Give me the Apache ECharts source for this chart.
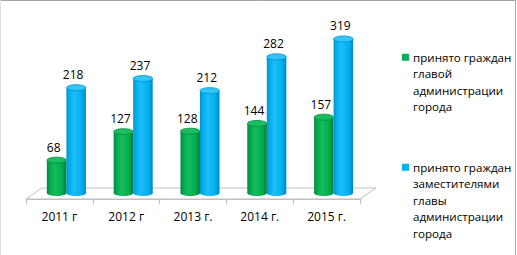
<!DOCTYPE html>
<html><head><meta charset="utf-8">
<script src="https://cdn.jsdelivr.net/npm/echarts@6/dist/echarts.min.js"></script>
<style>html,body{margin:0;padding:0;background:#fff}#c{width:517px;height:255px}</style>
</head><body><div id="c"></div>
<script>
// ---- data ----
const categories = ['2011 г', '2012 г', '2013 г.', '2014 г.', '2015 г.'];
const headValues = [68, 127, 128, 144, 157];
const deputyValues = [218, 237, 212, 282, 319];
const seriesNames = [
  'принято граждан главой администрации города',
  'принято граждан заместителями главы администрации города'
];
const legendLines = [
  ['принято граждан', 'главой', 'администрации', 'города'],
  ['принято граждан', 'заместителями', 'главы', 'администрации', 'города']
];
const yMax = 350;

// ---- styles ----
const FONT = 'Open Sans';
const G = echarts.graphic;
const pals = [
  { main: '#00B050', cap: '#1CBD5F', rim: '#008A40',
    stops: [[0, '#00843B'], [0.12, '#00A64B'], [0.4, '#16BC5B'], [0.78, '#00AD4E'], [1, '#007A37']] },
  { main: '#00B0F0', cap: '#33C5F7', rim: '#0090CC',
    stops: [[0, '#0090CE'], [0.12, '#00ABEB'], [0.4, '#1DBEF6'], [0.78, '#00AFEF'], [1, '#0086C2']] }
];
function grad(p) {
  return new G.LinearGradient(0, 0, 1, 0, p.stops.map(s => ({ offset: s[0], color: s[1] })));
}
function cylinder(p, side) {
  return function (params, api) {
    const idx = api.value(0), val = api.value(1);
    const top = api.coord([idx, val]);
    const base = api.coord([idx, 0]);
    const band = api.size([1, 0])[0];
    const w = band * 0.292;
    const cx = top[0] + side * w / 2;
    const rx = w / 2, ry = 3;
    return {
      type: 'group',
      children: [
        { type: 'ellipse', shape: { cx: cx, cy: base[1], rx: rx, ry: ry }, style: { fill: grad(p) } },
        { type: 'rect', shape: { x: cx - rx, y: top[1], width: w, height: base[1] - top[1] }, style: { fill: grad(p) } },
        { type: 'ellipse', shape: { cx: cx, cy: top[1], rx: rx, ry: ry }, style: { fill: p.cap, stroke: p.rim, lineWidth: 0.8 } },
        { type: 'text', x: cx - 3, y: top[1] - 13,
          style: { text: String(val), fill: '#000', fontSize: 12, fontFamily: FONT, align: 'center', verticalAlign: 'middle' } }
      ]
    };
  };
}
function floorItem(params, api) {
  const p = api.coord([0, 0]);
  const band = api.size([1, 0])[0];
  const x0 = p[0] - band / 2, x1 = x0 + band * categories.length, y = p[1];
  return {
    type: 'polygon',
    shape: { points: [[x0, y], [x1, y], [x1 + 16, y - 11], [x0 + 16, y - 11]] },
    style: { fill: 'rgba(0,0,0,0)', stroke: '#BFBFBF', lineWidth: 1 }
  };
}

const chart = echarts.init(document.getElementById('c'), null, { renderer: 'svg' });
chart.setOption({
  animation: false,
  backgroundColor: '#fff',
  color: [pals[0].main, pals[1].main],
  grid: [
    { left: 26, right: 157, top: 20, bottom: 56 },
    { left: 33, right: 150, top: 24, bottom: 62 }
  ],
  xAxis: [
    { type: 'category', gridIndex: 0, data: categories, boundaryGap: true,
      axisLine: { lineStyle: { color: '#BFBFBF', width: 1 } },
      axisTick: { show: true, length: 5, lineStyle: { color: '#BFBFBF' } },
      axisLabel: { color: '#000', fontSize: 12, fontFamily: FONT, margin: 11 } },
    { type: 'category', gridIndex: 1, data: categories, show: false }
  ],
  yAxis: [
    { type: 'value', gridIndex: 0, min: 0, max: yMax, show: false },
    { type: 'value', gridIndex: 1, min: 0, max: yMax, show: false }
  ],
  legend: {
    orient: 'vertical', left: 397, top: 49, padding: 0, itemGap: 44,
    itemWidth: 0, itemHeight: 0, icon: 'rect', selectedMode: false,
    data: seriesNames,
    formatter: function (name) {
      const i = seriesNames.indexOf(name);
      const key = i === 0 ? 'g' : 'b';
      return legendLines[i].map((l, k) => k === 0 ? '{' + key + '|}{gap|}' + l : '{ind|}' + l).join('\n');
    },
    textStyle: {
      color: '#000', fontSize: 11.6, fontFamily: FONT, lineHeight: 16.5,
      rich: {
        g: { width: 7, height: 7, backgroundColor: pals[0].main },
        b: { width: 7, height: 7, backgroundColor: pals[1].main },
        gap: { width: 4 },
        ind: { width: 11 }
      }
    }
  },
  graphic: [
    { type: 'line', shape: { x1: 0, y1: 0.5, x2: 516, y2: 0.5 }, style: { stroke: '#A6A6A6', lineWidth: 1 }, silent: true },
    { type: 'line', shape: { x1: 515.5, y1: 0, x2: 515.5, y2: 255 }, style: { stroke: '#A6A6A6', lineWidth: 1 }, silent: true },
    { type: 'line', shape: { x1: 0.5, y1: 0, x2: 0.5, y2: 255 }, style: { stroke: '#DDDDDD', lineWidth: 1 }, silent: true }
  ],
  series: [
    { type: 'custom', name: 'floor', xAxisIndex: 0, yAxisIndex: 0, silent: true, z: 1,
      renderItem: floorItem, data: [[0, 0]] },
    { type: 'custom', name: seriesNames[0], xAxisIndex: 1, yAxisIndex: 1, z: 3,
      itemStyle: { color: pals[0].main },
      renderItem: cylinder(pals[0], -1), encode: { x: 0, y: 1 },
      data: headValues.map((v, i) => [i, v]) },
    { type: 'custom', name: seriesNames[1], xAxisIndex: 1, yAxisIndex: 1, z: 3,
      itemStyle: { color: pals[1].main },
      renderItem: cylinder(pals[1], 1), encode: { x: 0, y: 1 },
      data: deputyValues.map((v, i) => [i, v]) }
  ]
});
</script></body></html>
